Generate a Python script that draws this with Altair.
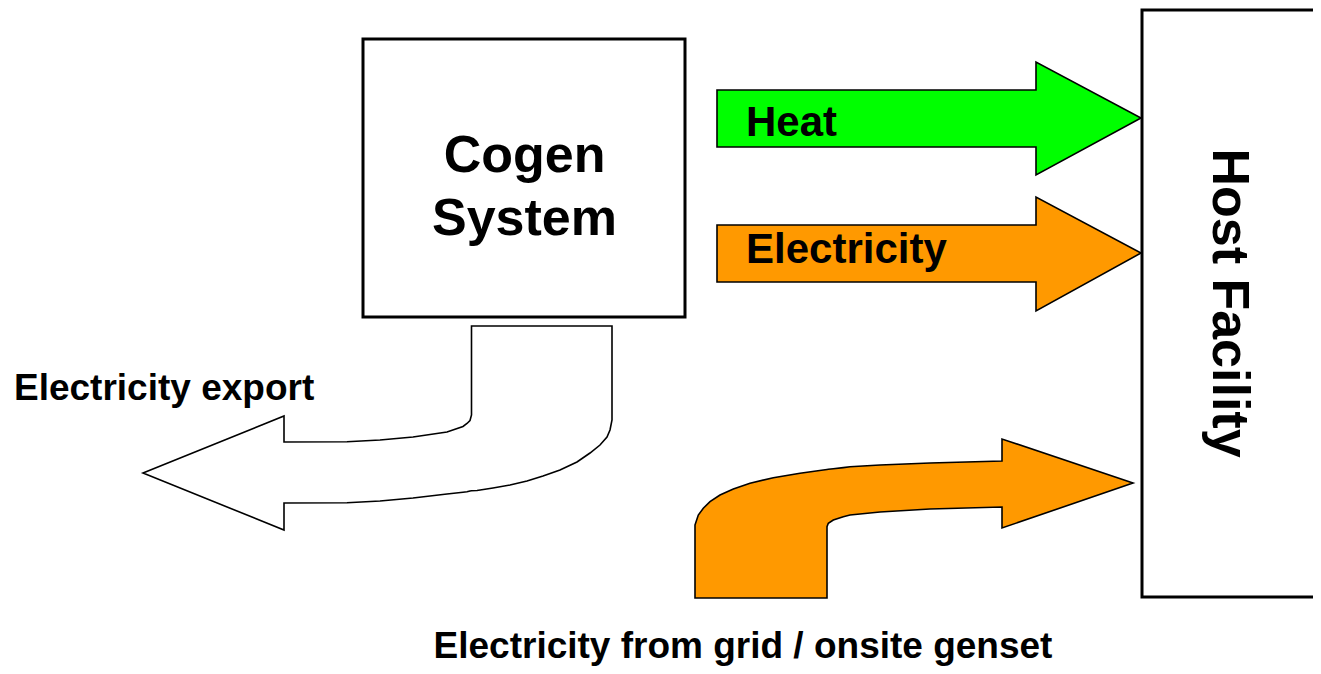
import altair as alt
import pandas as pd

# Page-pixel coordinate frame (the plot area starts at the 8px page margin)
X_DOMAIN = [8, 1313]
Y_DOMAIN = [8, 666]
FONT = "Liberation Sans"

# ---- boxes -------------------------------------------------------------
box_names = ["Cogen System", "Host Facility"]
box_x1 = [363, 1142]
box_x2 = [685, 1345]
box_y1 = [39, 10]
box_y2 = [317, 597]

# ---- straight arrows (x, top edge, bottom edge) --------------------------
heat_x = [717, 1036, 1036, 1141]
heat_top = [90, 90, 62, 118]
heat_bottom = [147, 147, 175, 118]

elec_x = [717, 1036, 1036, 1141]
elec_top = [225, 225, 197, 253]
elec_bottom = [282, 282, 311, 253]

# ---- curved arrow: electricity export (white) -----------------------------
export_x = [143, 284, 284, 347, 380, 413, 447, 463, 467, 470, 471.5, 471.5,
            477, 493, 510, 527, 543, 560, 577, 590, 600, 607, 610, 612]
export_top = [473, 416, 442, 441.7, 440, 437, 432, 426.5, 423.5, 420.5, 415, 326,
              326, 326, 326, 326, 326, 326, 326, 326, 326, 326, 326, 326]
export_bottom = [473, 530, 503, 502.7, 501, 498, 494, 492.3, 491.8, 491, 490.8, 490.8,
                 490.5, 488, 485, 481, 476, 470, 462, 453, 445, 437, 430, 420]

# ---- curved arrow: electricity from grid (orange) --------------------------
grid_x = [695, 698.3, 703.3, 710, 720, 733.3, 750, 773.3, 800, 823.3, 827, 827,
          828.3, 833.3, 843.3, 850, 880, 930, 1002, 1002, 1133]
grid_top = [525, 515, 508.3, 501.7, 495, 489, 483.3, 477.7, 473.3, 470, 469.5, 469.5,
            469.3, 468.8, 467.6, 466.7, 465, 463, 461, 439, 483]
grid_bottom = [598, 598, 598, 598, 598, 598, 598, 598, 598, 598, 598, 526.7,
               523.3, 520, 516.7, 515, 512, 509, 507, 528, 483]

# ---- labels ------------------------------------------------------------
big_text = ["Cogen", "System"]
big_x = [524.5, 524.5]
big_y = [172, 235]

arrow_text = ["Heat", "Electricity"]
arrow_tx = [746, 746]
arrow_ty = [136, 263]

caption_text = ["Electricity export", "Electricity from grid / onsite genset"]
caption_x = [14, 743]
caption_y = [400, 658]
caption_align = ["left", "center"]

host_text = ["Host Facility"]
host_x = [1213]
host_y = [303]

GREEN = "#00FF00"
ORANGE = "#FF9900"

xs = alt.Scale(domain=X_DOMAIN, nice=False, zero=False)
ys = alt.Scale(domain=Y_DOMAIN, nice=False, zero=False, reverse=True)


def X(f):
    return alt.X(f, type="quantitative", scale=xs, axis=None)


def Y(f):
    return alt.Y(f, type="quantitative", scale=ys, axis=None)


boxes = pd.DataFrame({"name": box_names, "x1": box_x1, "x2": box_x2, "y1": box_y1, "y2": box_y2})
box_layer = alt.Chart(boxes).mark_rect(fill="white", stroke="black", strokeWidth=3).encode(
    x=X("x1"), x2="x2", y=Y("y1"), y2="y2"
)


def arrow(xv, top, bottom, color):
    df = pd.DataFrame({"x": xv, "top": top, "bottom": bottom})
    return alt.Chart(df).mark_area(
        fill=color, stroke="black", strokeWidth=1.6, strokeJoin="miter", opacity=1
    ).encode(x=X("x"), y=Y("top"), y2="bottom")


heat_layer = arrow(heat_x, heat_top, heat_bottom, GREEN)
elec_layer = arrow(elec_x, elec_top, elec_bottom, ORANGE)
export_layer = arrow(export_x, export_top, export_bottom, "white")
grid_layer = arrow(grid_x, grid_top, grid_bottom, ORANGE)

big_df = pd.DataFrame({"t": big_text, "x": big_x, "y": big_y})
big_layer = alt.Chart(big_df).mark_text(
    font=FONT, fontWeight="bold", fontSize=52, align="center", baseline="alphabetic", color="black"
).encode(x=X("x"), y=Y("y"), text="t:N")

arrow_df = pd.DataFrame({"t": arrow_text, "x": arrow_tx, "y": arrow_ty})
arrow_text_layer = alt.Chart(arrow_df).mark_text(
    font=FONT, fontWeight="bold", fontSize=42, align="left", baseline="alphabetic", color="black"
).encode(x=X("x"), y=Y("y"), text="t:N")

cap_layers = []
for t, cx, cy, al in zip(caption_text, caption_x, caption_y, caption_align):
    cdf = pd.DataFrame({"t": [t], "x": [cx], "y": [cy]})
    cap_layers.append(
        alt.Chart(cdf).mark_text(
            font=FONT, fontWeight="bold", fontSize=37, align=al, baseline="alphabetic", color="black"
        ).encode(x=X("x"), y=Y("y"), text="t:N")
    )

host_df = pd.DataFrame({"t": host_text, "x": host_x, "y": host_y})
host_layer = alt.Chart(host_df).mark_text(
    font=FONT, fontWeight="bold", fontSize=52, align="center", baseline="alphabetic", angle=90, color="black"
).encode(x=X("x"), y=Y("y"), text="t:N")

chart = alt.layer(
    box_layer, heat_layer, elec_layer, export_layer, grid_layer,
    big_layer, arrow_text_layer, *cap_layers, host_layer
).properties(
    width=1305, height=658, padding=0, autosize="none", background="white"
).configure_view(stroke=None)

chart.save("out.html", embed_options={"renderer": "svg", "actions": False})
